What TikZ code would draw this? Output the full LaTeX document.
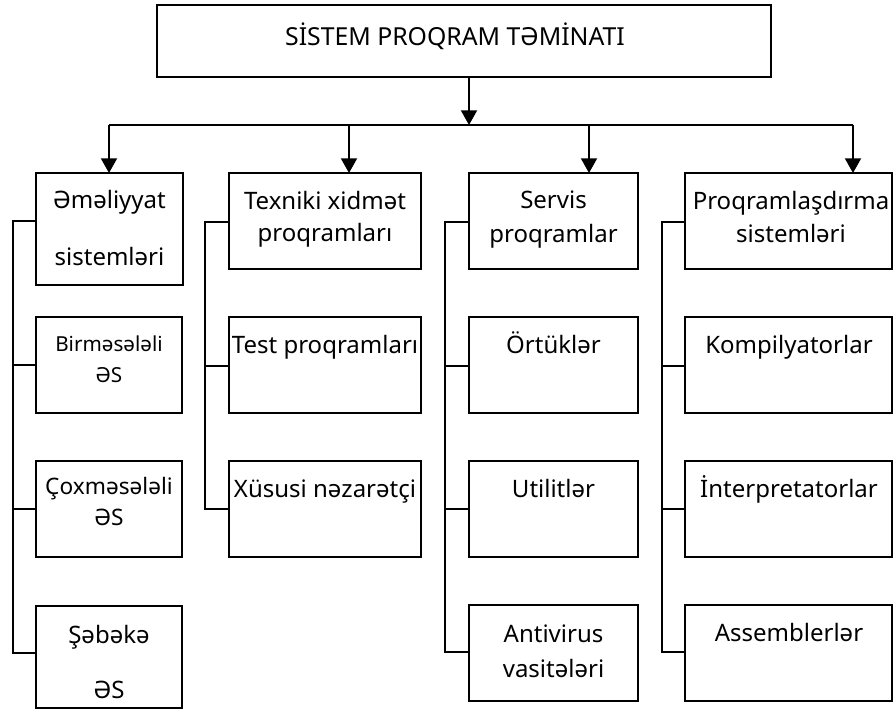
\documentclass[tikz,border=0pt]{standalone}
\usepackage{fontspec}
\setmainfont{Noto Sans}
\usetikzlibrary{arrows.meta}

% box from corner (x1,y1) to corner (x2,y2), in pixel units
\newcommand\pxbox[5]{%
  \node[box, minimum width={(#4-#2)*0.75pt}, minimum height={(#5-#3)*0.75pt}]
    (#1) at ({(#2+#4)/2},{(#3+#5)/2}) {};}

\begin{document}
\begin{tikzpicture}[x=0.75pt, y=-0.75pt,
  line width=1.4pt,
  box/.style={draw, rectangle, inner sep=0pt, outer sep=0pt},
  lbl/.style={inner sep=0pt, anchor=base, font=\fontsize{18}{20}\selectfont},
  small/.style={lbl, font=\fontsize{15.5}{18}\selectfont},
  mid/.style={lbl, font=\fontsize{17}{19}\selectfont},
  big/.style={lbl, font=\fontsize{18.6}{21}\selectfont},
  arr/.style={-{Triangle[width=12pt, length=11pt]}}]

\useasboundingbox (0,0) rectangle (893,713);

% root
\pxbox{root}{157}{5}{771}{77}
\node[big] (rootT) at (455,46) {SİSTEM PROQRAM TƏMİNATI};

% column 1: operating systems
\pxbox{a1}{36}{173}{183}{285}
\pxbox{a2}{36}{317}{182}{413}
\pxbox{a3}{36}{461}{182}{557}
\pxbox{a4}{36}{606}{182}{708}
\node[lbl] (a1t) at (109.5,209) {Əməliyyat};
\node[lbl] (a1u) at (109.5,266) {sistemləri};
\node[small] (a2t) at (109,351) {Birməsələli};
\node[small] (a2u) at (109,382) {ƏS};
\node[mid] (a3t) at (109,494) {Çoxməsələli};
\node[mid] (a3u) at (109,525) {ƏS};
\node[lbl] (a4t) at (109,643) {Şəbəkə};
\node[lbl] (a4u) at (109,698) {ƏS};

% column 2: maintenance programs
\pxbox{b1}{229}{173}{421}{269}
\pxbox{b2}{229}{317}{421}{413}
\pxbox{b3}{229}{461}{421}{557}
\node[lbl] (b1t) at (325,210) {Texniki xidmət};
\node[lbl] (b1u) at (325,242) {proqramları};
\node[lbl] (b2t) at (325,353) {Test proqramları};
\node[lbl] (b3t) at (325,497) {Xüsusi nəzarətçi};

% column 3: service programs
\pxbox{c1}{469}{173}{638}{269}
\pxbox{c2}{469}{317}{638}{413}
\pxbox{c3}{469}{461}{638}{557}
\pxbox{c4}{469}{605}{638}{701}
\node[lbl] (c1t) at (553.5,209) {Servis};
\node[lbl] (c1u) at (553.5,243) {proqramlar};
\node[lbl] (c2t) at (553.5,353) {Örtüklər};
\node[lbl] (c3t) at (553.5,497) {Utilitlər};
\node[lbl] (c4t) at (553.5,642) {Antivirus};
\node[lbl] (c4u) at (553.5,677) {vasitələri};

% column 4: programming systems
\pxbox{d1}{685}{173}{892}{269}
\pxbox{d2}{685}{317}{892}{413}
\pxbox{d3}{685}{461}{892}{557}
\pxbox{d4}{685}{605}{892}{701}
\node[lbl] (d1t) at (791,210) {Proqramlaşdırma};
\node[lbl] (d1u) at (791,243) {sistemləri};
\node[lbl] (d2t) at (789,353) {Kompilyatorlar};
\node[lbl] (d3t) at (789,497) {İnterpretatorlar};
\node[lbl] (d4t) at (789,641) {Assemblerlər};

% top distribution bus
\coordinate (hub) at (469,125);
\coordinate (j1) at (109,125);
\coordinate (j2) at (349,125);
\coordinate (j3) at (589,125);
\coordinate (j4) at (853,125);
\draw[arr] (root.south -| hub) -- (hub);
\draw (j1) -- (j4);
\draw[arr] (j1) -- (j1 |- a1.north);
\draw[arr] (j2) -- (j2 |- b1.north);
\draw[arr] (j3) -- (j3 |- c1.north);
\draw[arr] (j4) -- (j4 |- d1.north);

% side buses of each column
\coordinate (pa1) at (13,221);
\coordinate (pa2) at (13,365);
\coordinate (pa3) at (13,509);
\coordinate (pa4) at (13,653);
\draw (pa1 -| a1.west) -- (pa1) -- (pa4) -- (pa4 -| a4.west);
\draw (pa2) -- (pa2 -| a2.west);
\draw (pa3) -- (pa3 -| a3.west);

\coordinate (pb1) at (205,222);
\coordinate (pb2) at (205,366);
\coordinate (pb3) at (205,509);
\draw (pb1 -| b1.west) -- (pb1) -- (pb3) -- (pb3 -| b3.west);
\draw (pb2) -- (pb2 -| b2.west);

\coordinate (pc1) at (445,222);
\coordinate (pc2) at (445,366);
\coordinate (pc3) at (445,509);
\coordinate (pc4) at (445,652);
\draw (pc1 -| c1.west) -- (pc1) -- (pc4) -- (pc4 -| c4.west);
\draw (pc2) -- (pc2 -| c2.west);
\draw (pc3) -- (pc3 -| c3.west);

\coordinate (pd1) at (662,222);
\coordinate (pd2) at (662,366);
\coordinate (pd3) at (662,509);
\coordinate (pd4) at (662,652);
\draw (pd1 -| d1.west) -- (pd1) -- (pd4) -- (pd4 -| d4.west);
\draw (pd2) -- (pd2 -| d2.west);
\draw (pd3) -- (pd3 -| d3.west);

\end{tikzpicture}
\end{document}
